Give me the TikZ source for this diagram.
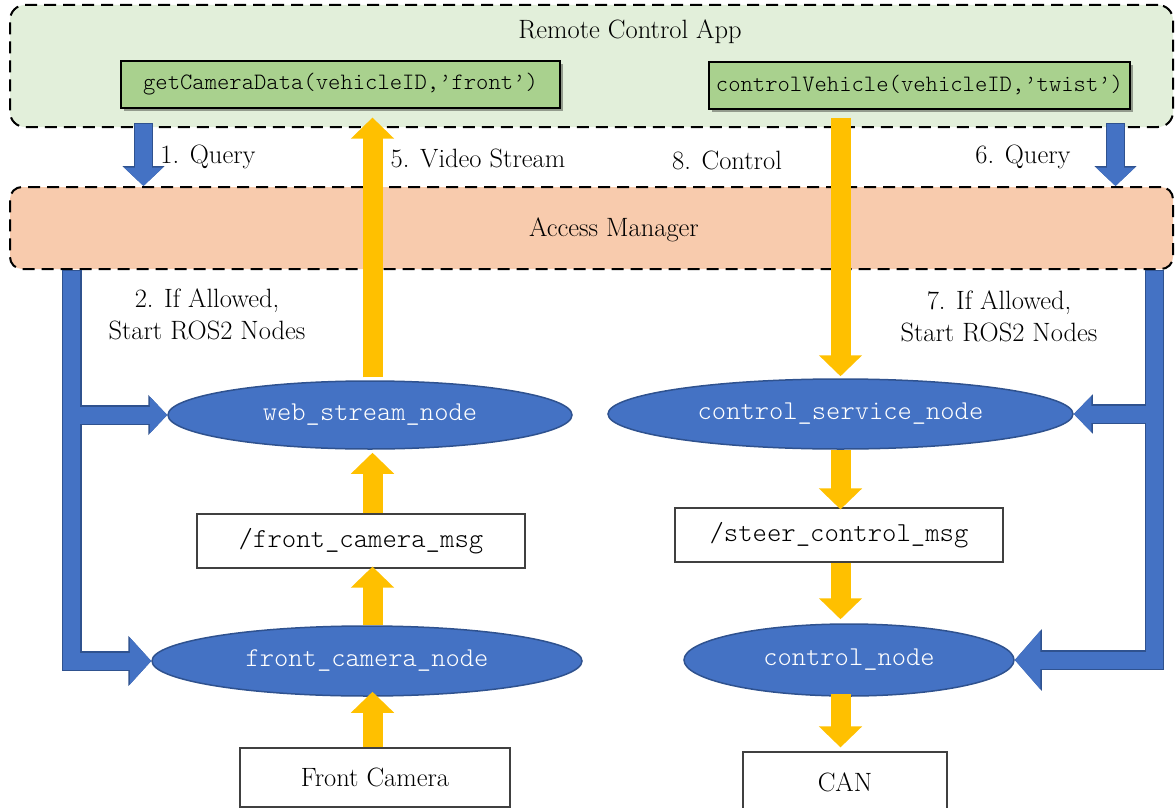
\documentclass[tikz,border=0pt]{standalone}
\usepackage{fontspec}
\setmonofont{lmmonolt10-regular.otf}
\usetikzlibrary{arrows.meta,shapes.geometric,shadows,calc}
\definecolor{appbg}{HTML}{E2EFDA}
\definecolor{fnfill}{HTML}{A9D18E}
\definecolor{amfill}{HTML}{F8CBAD}
\definecolor{rosblue}{HTML}{4472C4}
\definecolor{blueborder}{HTML}{2F528F}
\definecolor{ayellow}{HTML}{FFC000}
\definecolor{boxgray}{HTML}{404040}
\begin{document}
\begin{tikzpicture}[x=1pt,y=-1pt,
  lbl/.style={font=\fontsize{26.5}{32}\selectfont, inner sep=0pt, align=center},
  dashbox/.style={draw=black, line width=2pt, dash pattern=on 12pt off 7pt, rounded corners=15pt, inner sep=0pt},
  fnbox/.style={draw=black, line width=1.2pt, fill=fnfill, inner sep=0pt, font=\fontsize{23.5}{28}\ttfamily,
    drop shadow={shadow xshift=3pt, shadow yshift=-3pt, opacity=0.35, fill=black}},
  rosnode/.style={ellipse, draw=blueborder, line width=1.5pt, fill=rosblue, text=white, inner sep=0pt, font=\fontsize{27.2}{32}\ttfamily},
  topicbox/.style={draw=boxgray, line width=1.2pt, fill=white, inner sep=0pt, font=\fontsize{27.4}{32}\ttfamily},
  hwbox/.style={draw=boxgray, line width=1.2pt, fill=white, inner sep=0pt, font=\fontsize{26.5}{32}\selectfont},
  yarrow/.style={draw=ayellow, line width=20pt, -{Triangle[length=21pt,width=42pt]}},
  bborder/.style={draw=blueborder, line width=19.5pt},
  bfill/.style={draw=rosblue, line width=17pt}
]
\useasboundingbox (0,0) rectangle (1175,808);

% containers
\node[dashbox, fill=appbg, minimum width=1163pt, minimum height=122pt] (app) at (591.5,66) {};
\node[lbl] (apptitle) at (630,32) {Remote Control App};
\node[fnbox, minimum width=439pt, minimum height=47pt] (gcd) at (340.5,84.5) {getCameraData(vehicleID,’front’)};
\node[fnbox, minimum width=421pt, minimum height=47pt] (cv) at (919.5,85.5) {controlVehicle(vehicleID,’twist’)};
\node[dashbox, rounded corners=12pt, fill=amfill, minimum width=1163pt, minimum height=82pt] (am) at (591.5,228) {};
\node[lbl] (amtitle) at (614,230) {Access Manager};

% ROS nodes
\node[rosnode, minimum width=404pt, minimum height=68pt] (ws) at (370,415) {web\_stream\_node};
\node[rosnode, minimum width=430pt, minimum height=70pt] (fcn) at (367,661) {front\_camera\_node};
\node[rosnode, minimum width=465pt, minimum height=70pt] (csn) at (840.5,414) {control\_service\_node};
\node[rosnode, minimum width=330pt, minimum height=72pt] (cn) at (849,660) {control\_node};

% topics and hardware
\node[topicbox, minimum width=328pt, minimum height=54pt] (fcm) at (361,541) {/front\_camera\_msg};
\node[topicbox, minimum width=328pt, minimum height=54pt] (scm) at (839,535) {/steer\_control\_msg};
\node[hwbox, minimum width=270pt, minimum height=59pt] (cam) at (375,777.5) {Front Camera};
\node[hwbox, minimum width=204pt, minimum height=60pt] (can) at (845,782) {CAN};

% labels
\node[lbl] (l1) at (208,157) {1. Query};
\node[lbl] (l5) at (478,158) {5. Video Stream};
\node[lbl] (l8) at (727,160) {8. Control};
\node[lbl] (l6) at (1023,157) {6. Query};
\node[lbl] (l2) at (207,314) {2. If Allowed,\\Start ROS2 Nodes};
\node[lbl] (l7) at (999,316) {7. If Allowed,\\Start ROS2 Nodes};

% helper columns
\coordinate (qL) at (143.5,0);
\coordinate (qR) at (1115.5,0);
\coordinate (bL) at (71.75,0);
\coordinate (bR) at (1154.5,0);
\coordinate (yL) at (372.5,0);
\coordinate (yR) at (840.5,0);

% blue arrows: borders first
\draw[bborder, -{Triangle[length=20pt,width=41pt]}] ($(qL |- app.south)+(0,-5)$) -- (qL |- am.north);
\draw[bborder, -{Triangle[length=20pt,width=41pt]}] ($(qR |- app.south)+(0,-5)$) -- (qR |- am.north);
\draw[bborder, line join=miter, -{Triangle[length=23pt,width=49pt]}] (bL |- am.south) -- (bL |- fcn.west) -- (fcn.west);
\draw[bborder, -{Triangle[length=19pt,width=39pt]}] (bL |- ws.west) -- (ws.west);
\draw[bborder, line join=miter, -{Triangle[length=27pt,width=60pt]}] (bR |- am.south) -- (bR |- cn.east) -- (cn.east);
\draw[bborder, -{Triangle[length=19pt,width=38pt]}] (bR |- csn.east) -- (csn.east);
% blue arrows: fill
\draw[bfill, -{Triangle[length=18.5pt,width=38pt]}] ($(qL |- app.south)+(0,-4)$) -- (qL |- am.north);
\draw[bfill, -{Triangle[length=18.5pt,width=38pt]}] ($(qR |- app.south)+(0,-4)$) -- (qR |- am.north);
\draw[bfill, line join=miter, -{Triangle[length=21.5pt,width=46pt]}] ($(bL |- am.south)+(0,1)$) -- (bL |- fcn.west) -- (fcn.west);
\draw[bfill, -{Triangle[length=17.5pt,width=36pt]}] (bL |- ws.west) -- (ws.west);
\draw[bfill, line join=miter, -{Triangle[length=25.5pt,width=57pt]}] ($(bR |- am.south)+(0,1)$) -- (bR |- cn.east) -- (cn.east);
\draw[bfill, -{Triangle[length=17.5pt,width=35pt]}] (bR |- csn.east) -- (csn.east);

% yellow arrows
\draw[yarrow] ($(yL |- ws.north)+(0,-3)$) -- ($(yL |- gcd.south)+(0,9)$);
\draw[yarrow] (yL |- fcm.north) -- ($(yL |- ws.south)+(0,3)$);
\draw[yarrow] (yL |- fcn.north) -- ($(yL |- fcm.south)+(0,-2)$);
\draw[yarrow] (yL |- cam.north) -- ($(yL |- fcn.south)+(0,-5)$);
\draw[yarrow] ($(yR |- cv.south)+(0,8)$) -- ($(yR |- csn.north)+(0,-2)$);
\draw[yarrow] (yR |- csn.south) -- ($(yR |- scm.north)+(0,2)$);
\draw[yarrow] (yR |- scm.south) -- ($(yR |- cn.north)+(0,-4)$);
\draw[yarrow] ($(yR |- cn.south)+(0,-3)$) -- ($(yR |- can.north)+(0,-4)$);
\end{tikzpicture}
\end{document}
